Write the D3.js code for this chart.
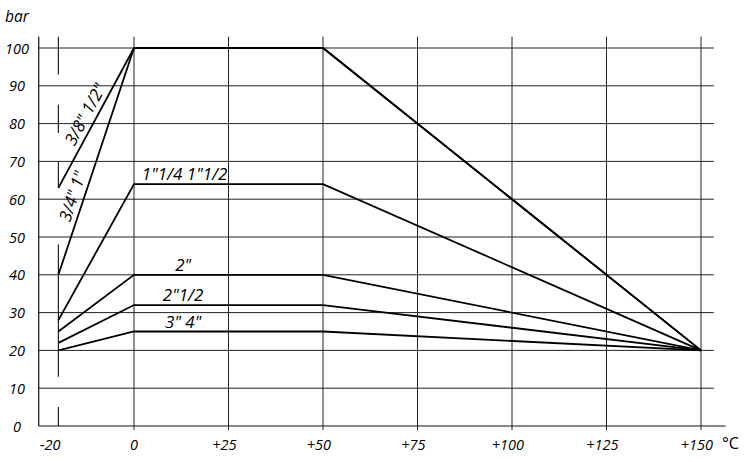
<!DOCTYPE html>
<html><head><meta charset="utf-8">
<script src="https://cdn.jsdelivr.net/npm/d3@7"></script>
<style>
body{margin:0;background:#fff}
svg{display:block}
text{font-family:"Open Sans",sans-serif;font-style:italic;fill:#000}
</style>
</head><body><svg width="750" height="462"></svg>
<script>
// ---- data ----
const xTicks = [-20, 0, 25, 50, 75, 100, 125, 150];
const xTickLabels = ["-20", "0", "+25", "+50", "+75", "+100", "+125", "+150"];
const yTicks = [0, 10, 20, 30, 40, 50, 60, 70, 80, 90, 100];
const seriesNames = ['3/8" 1/2"', '3/4" 1"', '1"1/4 1"1/2', '2"', '2"1/2', '3" 4"'];
const temps = [-20, 0, 50, 150];
const pressures = [
  [63, 100, 100, 20],
  [40, 100, 100, 20],
  [28, 64, 64, 20],
  [25, 40, 40, 20],
  [22, 32, 32, 20],
  [20, 25, 25, 20]
];
// broken reference line at -20 °C (bar ranges)
const refSegments = [[103, 93], [85, 77.5], [70, 63], [48, 13], [5, 0]];

// ---- layout ----
const svg = d3.select("svg");
const x = d3.scaleLinear().domain([-20, 150]).range([58.4, 701]);
const y = d3.scaleLinear().domain([0, 100]).range([426, 48]);
const xLeft = -25.2, xGridRight = 153.4, xAxisRight = 156.5, yTop = 103;

const g = svg.append("g");

// horizontal grid
g.selectAll("line.hg").data(yTicks.filter(d => d > 0)).join("line")
  .attr("x1", x(xLeft)).attr("x2", x(xGridRight))
  .attr("y1", d => y(d)).attr("y2", d => y(d))
  .attr("stroke", "#222").attr("stroke-width", 1);

// vertical grid (0..150) with ticks below axis
g.selectAll("line.vg").data(xTicks.filter(d => d >= 0)).join("line")
  .attr("x1", d => x(d)).attr("x2", d => x(d))
  .attr("y1", y(yTop)).attr("y2", y(0) + 4)
  .attr("stroke", "#222").attr("stroke-width", 1);

// -20 broken line
g.selectAll("line.ref").data(refSegments).join("line")
  .attr("x1", x(-20)).attr("x2", x(-20))
  .attr("y1", d => y(d[0])).attr("y2", d => y(d[1]))
  .attr("stroke", "#222").attr("stroke-width", 1.2);

// axes lines
g.append("line").attr("x1", x(xLeft)).attr("x2", x(xLeft))
  .attr("y1", y(yTop)).attr("y2", y(0)).attr("stroke", "#111").attr("stroke-width", 1.2);
g.append("line").attr("x1", x(xLeft)).attr("x2", x(xAxisRight))
  .attr("y1", y(0)).attr("y2", y(0)).attr("stroke", "#111").attr("stroke-width", 1.2);

// data lines
const line = d3.line().x((d, i) => x(temps[i])).y(d => y(d));
g.selectAll("path.s").data(pressures).join("path")
  .attr("d", d => line(d)).attr("fill", "none")
  .attr("stroke", "#000").attr("stroke-width", 1.8).attr("stroke-linejoin", "miter");

// y tick labels
g.selectAll("text.yl").data(yTicks).join("text")
  .attr("x", 17).attr("y", d => y(d))
  .attr("text-anchor", "middle").attr("dominant-baseline", "central")
  .style("font-size", "14.5px").text(d => d);

// x tick labels: number centered on gridline, sign hanging left
const meas = svg.append("text").style("font-size", "14.5px");
xTicks.forEach((t, i) => {
  const lab = xTickLabels[i];
  const num = lab.replace(/^[+-]/, "");
  meas.text(num);
  const w = meas.node().getComputedTextLength();
  const tx = g.append("text").attr("y", 450).style("font-size", "14.5px")
    .attr("text-anchor", "end").text(lab);
  if (i === 0) tx.attr("x", x(t) + 2);
  else tx.attr("x", x(t) + w / 2);
});
meas.remove();

// unit labels
g.append("text").attr("x", 5).attr("y", 22).style("font-size", "15.5px").text("bar");
g.append("text").attr("x", 722).attr("y", 449).style("font-size", "16px")
  .style("font-style", "normal").text("°C");

// rotated labels along rising lines
const alongT = [0.486, 0.33];
[0, 1].forEach(si => {
  const p = pressures[si];
  const x0 = x(temps[0]), y0 = y(p[0]), x1 = x(temps[1]), y1 = y(p[1]);
  const dx = x1 - x0, dy = y1 - y0, len = Math.hypot(dx, dy);
  const t = alongT[si];
  const px = x0 + t * dx + (dy / len) * 12;
  const py = y0 + t * dy + (-dx / len) * 12;
  const ang = Math.atan2(dy, dx) * 180 / Math.PI;
  g.append("text").attr("transform", `translate(${px},${py}) rotate(${ang})`)
    .attr("text-anchor", "middle").attr("dominant-baseline", "central")
    .style("font-size", "17px").text(seriesNames[si]);
});

// horizontal labels above plateaus
[2, 3, 4, 5].forEach(si => {
  g.append("text").attr("x", x(si === 2 ? 13.4 : 13)).attr("y", y(pressures[si][1]) - 4)
    .attr("text-anchor", "middle").style("font-size", "17px").text(seriesNames[si]);
});
</script>
</body></html>
